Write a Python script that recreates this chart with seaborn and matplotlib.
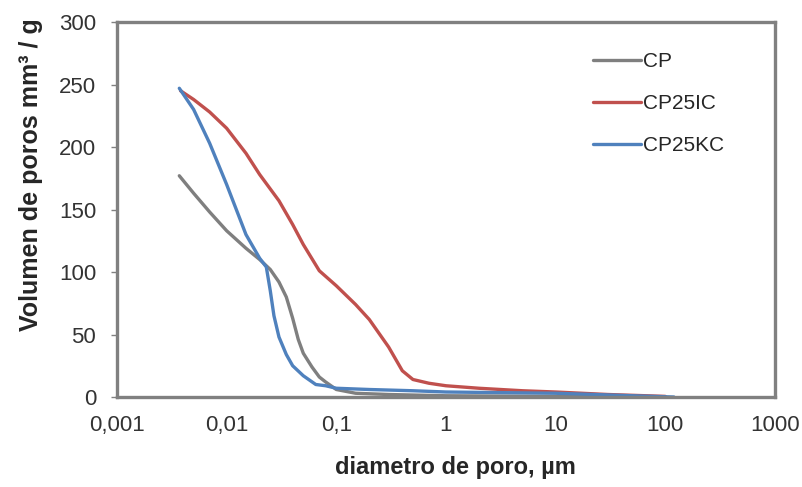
import numpy as np
import pandas as pd
import matplotlib
matplotlib.use("Agg")
import matplotlib.pyplot as plt
import seaborn as sns

# data (diameter in µm, volume in mm3/g)
cp_x = [0.0037, 0.005, 0.007, 0.01, 0.015, 0.02, 0.025, 0.03, 0.035, 0.04,
        0.045, 0.05, 0.06, 0.07, 0.08, 0.1, 0.15, 0.3, 1, 10, 100]
cp_y = [177, 163, 148, 133, 119, 110, 102, 92, 80, 63,
        46, 35, 24, 16, 12, 6, 3, 2, 1, 0.5, 0]

ic_x = [0.0038, 0.005, 0.007, 0.01, 0.015, 0.02, 0.03, 0.04, 0.05, 0.07,
        0.1, 0.15, 0.2, 0.3, 0.4, 0.5, 0.7, 1, 2, 5, 10, 30, 100]
ic_y = [245, 238, 228, 215, 195, 178, 157, 138, 122, 101,
        89, 74, 62, 40, 21, 14, 11, 9, 7, 5, 4, 2, 0.5]

kc_x = [0.0037, 0.005, 0.007, 0.01, 0.015, 0.02, 0.023, 0.025, 0.027, 0.03,
        0.035, 0.04, 0.05, 0.065, 0.08, 0.1, 0.2, 0.5, 1, 10, 50, 120]
kc_y = [247, 230, 203, 170, 130, 111, 104, 85, 65, 48,
        34, 25, 17, 10, 9, 7, 6, 5, 4, 3, 1, 0]

series = ["CP", "CP25IC", "CP25KC"]
colors = ["#7f7f7f", "#c0504d", "#4f81bd"]

xticks = [0.001, 0.01, 0.1, 1, 10, 100, 1000]
xtick_labels = ["0,001", "0,01", "0,1", "1", "10", "100", "1000"]
yticks = [0, 50, 100, 150, 200, 250, 300]

df = pd.concat([
    pd.DataFrame({"d": cp_x, "v": cp_y, "serie": "CP"}),
    pd.DataFrame({"d": ic_x, "v": ic_y, "serie": "CP25IC"}),
    pd.DataFrame({"d": kc_x, "v": kc_y, "serie": "CP25KC"}),
])

sns.set_style("white")
plt.rcParams["font.family"] = ["Liberation Sans", "DejaVu Sans"]

fig = plt.figure(figsize=(8.03, 4.87), dpi=100)
ax = fig.add_axes([0.1457, 0.1848, 0.8193, 0.77])

sns.lineplot(data=df, x="d", y="v", hue="serie", hue_order=series,
             palette=dict(zip(series, colors)), linewidth=2.4,
             sort=False, estimator=None, ax=ax)

ax.set_xscale("log")
ax.set_xlim(0.001, 1000)
ax.set_ylim(0, 300)
ax.set_xticks(xticks)
ax.set_xticklabels(xtick_labels)
ax.xaxis.set_minor_locator(matplotlib.ticker.NullLocator())
ax.set_yticks(yticks)

for s in ax.spines.values():
    s.set_color("#808080")
    s.set_linewidth(2.4)

ax.tick_params(axis="x", direction="in", length=5, width=1, color="#808080",
               labelsize=16, labelcolor="#333333", pad=13)
ax.tick_params(axis="y", direction="out", length=4, width=1, color="#808080",
               labelsize=16, labelcolor="#333333", pad=11, left=True)

ax.set_xlabel("diametro de poro, µm", fontsize=17, fontweight="bold")
ax.set_ylabel("Volumen de poros mm³ / g", fontsize=18, fontweight="bold")
ax.xaxis.set_label_coords(0.514, -0.158)
ax.yaxis.set_label_coords(-0.113, 0.594)

leg = ax.legend(loc="upper left", bbox_to_anchor=(583 / 803, 1 - 42 / 487),
                bbox_transform=fig.transFigure, frameon=False, borderpad=0,
                fontsize=15, handlelength=2.3, handletextpad=0.1, labelspacing=1.1,
                title=None)
for line in leg.get_lines():
    line.set_linewidth(2.4)

fig.savefig("out.png", dpi=100)
